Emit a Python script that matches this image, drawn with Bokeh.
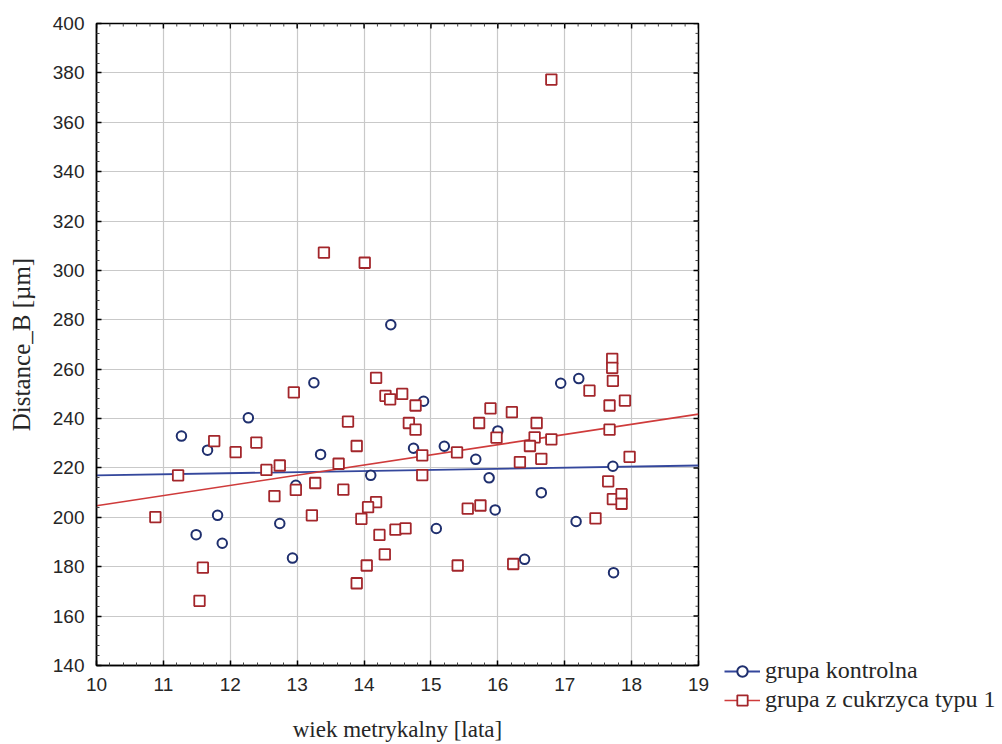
import math
from bokeh.plotting import figure
from bokeh.models import Legend, LegendItem, FixedTicker, Range1d
from bokeh.embed import file_html
from bokeh.resources import INLINE

# --- data ---
age_kontrolna = [11.27, 11.66, 12.27, 11.81, 11.49, 11.88, 12.98, 12.74, 12.93, 14.40,
                 13.25, 13.35, 14.10, 14.89, 14.74, 15.20, 15.67, 15.87, 16.00, 15.96,
                 15.08, 16.94, 17.21, 16.65, 17.72, 17.17, 16.40, 17.73]
dist_kontrolna = [232.9, 227.2, 240.3, 200.8, 193.0, 189.5, 213.0, 197.5, 183.5, 278.0,
                  254.5, 225.5, 217.0, 247.0, 228.0, 228.8, 223.5, 216.0, 235.0, 203.0,
                  195.5, 254.3, 256.2, 210.0, 220.7, 198.3, 183.0, 177.6]

age_cukrzyca = [12.95, 11.76, 12.39, 12.08, 12.54, 12.74, 11.22, 12.98, 12.66, 10.88, 11.59, 11.54,
                14.18, 14.32, 14.39, 14.57, 14.77, 14.67, 14.77, 13.76, 13.89, 13.62, 13.27, 13.69,
                14.87, 14.87, 15.39, 15.72, 15.89, 15.98, 13.22, 14.18, 14.06, 13.96, 14.23, 14.47,
                14.62, 14.31, 14.04, 13.89, 15.55, 15.74, 15.40,
                16.21, 16.58, 16.55, 16.48, 16.80, 16.33, 16.65, 17.71, 17.71, 17.72, 17.37, 17.67,
                17.90, 17.67, 17.97, 17.65, 17.72, 17.85, 17.85, 17.46, 16.23,
                13.40, 14.01, 16.80]
dist_cukrzyca = [250.6, 230.9, 230.3, 226.4, 219.2, 221.0, 217.0, 211.1, 208.6, 200.1, 179.6, 166.2,
                 256.5, 249.2, 247.8, 250.0, 245.3, 238.2, 235.5, 238.8, 228.9, 221.7, 213.9, 211.2,
                 225.1, 217.1, 226.3, 238.2, 244.1, 232.3, 200.8, 206.2, 204.1, 199.4, 192.9, 195.0,
                 195.5, 185.0, 180.5, 173.3, 203.5, 204.8, 180.5,
                 242.6, 238.2, 232.4, 228.9, 231.6, 222.4, 223.7, 264.2, 260.5, 255.3, 251.3, 245.3,
                 247.3, 235.5, 224.5, 214.6, 207.4, 209.4, 205.5, 199.6, 181.1,
                 307.2, 303.1, 377.3]

# fitted regression lines (end points)
fit_age = [10, 19]
fit_kontrolna = [217.0, 221.0]
fit_cukrzyca = [204.7, 241.8]

x_ticks = [10, 11, 12, 13, 14, 15, 16, 17, 18, 19]
y_ticks = [140, 160, 180, 200, 220, 240, 260, 280, 300, 320, 340, 360, 380, 400]

label_kontrolna = "grupa kontrolna"
label_cukrzyca = "grupa z cukrzyca typu 1"

BLUE_PT = "#1f2f6e"
RED_PT = "#a3262b"
BLUE_LN = "#34479c"
RED_LN = "#cf3b3b"
SERIF = "Liberation Serif"
SANS = "Liberation Sans"

X0, X1 = x_ticks[0], x_ticks[-1]
Y0, Y1 = y_ticks[0], y_ticks[-1]

p = figure(frame_width=602, frame_height=642, output_backend="svg", toolbar_location=None,
           x_range=Range1d(X0, X1), y_range=Range1d(Y0, Y1),
           min_border_left=96, min_border_top=23, min_border_right=0, min_border_bottom=79,
           x_axis_label="wiek metrykalny [lata]", y_axis_label="Distance_B [\u00b5m]")
p.background_fill_color = "white"
p.border_fill_color = "white"
p.outline_line_color = "black"
p.outline_line_width = 1.5

p.xgrid.ticker = FixedTicker(ticks=x_ticks)
p.ygrid.ticker = FixedTicker(ticks=y_ticks)
for g in (p.xgrid, p.ygrid):
    g.grid_line_color = "#c9c9c9"
    g.grid_line_width = 1.2


def minor_list(ticks, n):
    out = []
    for a, b in zip(ticks[:-1], ticks[1:]):
        step = (b - a) / n
        out += [a + step * k for k in range(1, n)]
    return out


x_minor = minor_list(x_ticks, 5)
y_minor = minor_list(y_ticks, 5)

for ax, ticks, minor in ((p.xaxis[0], x_ticks, x_minor), (p.yaxis[0], y_ticks, y_minor)):
    ax.ticker = FixedTicker(ticks=ticks, minor_ticks=minor)
    ax.axis_line_color = "black"
    ax.axis_line_width = 1.5
    ax.major_tick_in = 5
    ax.major_tick_out = 0
    ax.major_tick_line_color = "black"
    ax.major_tick_line_width = 1.5
    ax.minor_tick_in = 3
    ax.minor_tick_out = 0
    ax.minor_tick_line_color = "#444444"
    ax.major_label_text_font = SANS
    ax.major_label_text_font_size = "19px"
    ax.major_label_text_color = "#262626"
    ax.major_label_standoff = 12
    ax.axis_label_text_font = SERIF
    ax.axis_label_text_font_size = "23px"
    ax.axis_label_text_font_style = "normal"
    ax.axis_label_text_color = "#262626"
p.xaxis[0].axis_label_standoff = 23
p.yaxis[0].axis_label_standoff = 15
p.yaxis[0].axis_label_text_font_size = "25px"

# inward ticks on the top and right edges of the frame
p.ray(x=x_ticks, y=[Y1] * len(x_ticks), length=5, length_units="screen",
      angle=-math.pi / 2, line_color="black", line_width=1.5)
p.ray(x=x_minor, y=[Y1] * len(x_minor), length=3, length_units="screen",
      angle=-math.pi / 2, line_color="#444444", line_width=1)
p.ray(x=[X1] * len(y_ticks), y=y_ticks, length=5, length_units="screen",
      angle=math.pi, line_color="black", line_width=1.5)
p.ray(x=[X1] * len(y_minor), y=y_minor, length=3, length_units="screen",
      angle=math.pi, line_color="#444444", line_width=1)

# regression lines
lk = p.line(fit_age, fit_kontrolna, line_color=BLUE_LN, line_width=1.8)
lc = p.line(fit_age, fit_cukrzyca, line_color=RED_LN, line_width=1.6)

# points
sk = p.scatter(age_kontrolna, dist_kontrolna, marker="circle", size=9.5,
               fill_color="white", line_color=BLUE_PT, line_width=2)
sc = p.scatter(age_cukrzyca, dist_cukrzyca, marker="square", size=10.5,
               fill_color="white", line_color=RED_PT, line_width=1.8)

# legend in the right side panel (side-panel annotations are not clipped to the frame)
legend = Legend(items=[LegendItem(label=label_kontrolna, renderers=[lk, sk]),
                       LegendItem(label=label_cukrzyca, renderers=[lc, sc])],
                location=(26, -48), orientation="vertical")
legend.background_fill_alpha = 0
legend.border_line_alpha = 0
legend.padding = 0
legend.margin = 0
legend.spacing = 2
legend.glyph_width = 36
legend.glyph_height = 26
legend.label_height = 26
legend.label_standoff = 5
legend.label_text_font = SERIF
legend.label_text_font_size = "24px"
legend.label_text_color = "#262626"
p.add_layout(legend, "right")

open("out.html", "w").write(file_html(p, INLINE))
